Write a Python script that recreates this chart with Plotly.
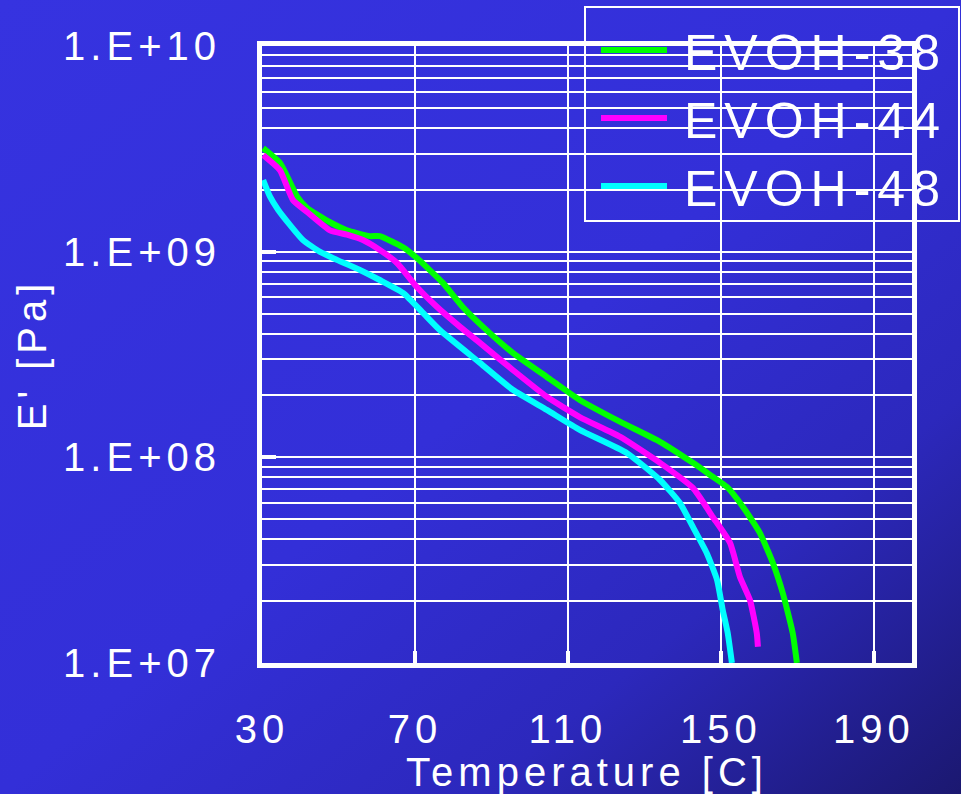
import base64
import plotly.graph_objects as go

# ---- data ----
T_38 = [30.3, 34.7, 39.2, 41.8, 47.8, 52.2, 58.2, 60.8, 66.9, 70.5, 77.3, 82.5, 87.8, 95.6,
        104.5, 113.1, 123.6, 134.1, 142.7, 147.9, 151.6, 155.8, 160.2, 163.6, 166.2, 168.8, 169.9]
E_38 = [3.19e9, 2.70e9, 1.85e9, 1.63e9, 1.39e9, 1.27e9, 1.19e9, 1.19e9, 1.05e9, 9.31e8, 7.05e8,
        5.38e8, 4.31e8, 3.22e8, 2.46e8, 1.90e8, 1.49e8, 1.19e8, 9.40e7, 8.04e7, 7.18e7, 5.74e7,
        4.29e7, 3.07e7, 2.19e7, 1.40e7, 1.00e7]

T_44 = [30.3, 34.7, 38.1, 41.8, 47.8, 52.2, 56.4, 60.8, 65.3, 70.5, 75.8, 81.8, 87.0, 95.6,
        104.5, 113.1, 123.6, 134.1, 142.7, 147.9, 152.4, 155.0, 157.6, 159.4, 159.7]
E_44 = [2.95e9, 2.49e9, 1.78e9, 1.56e9, 1.27e9, 1.21e9, 1.14e9, 1.02e9, 8.81e8, 6.73e8, 5.38e8,
        4.31e8, 3.60e8, 2.66e8, 1.97e8, 1.57e8, 1.26e8, 9.40e7, 7.10e7, 5.13e7, 3.84e7, 2.62e7,
        2.03e7, 1.40e7, 1.20e7]

T_48 = [30.3, 32.1, 34.2, 37.3, 40.7, 45.2, 49.6, 55.6, 60.8, 66.9, 72.1, 76.5, 87.0, 95.6,
        104.5, 113.1, 125.4, 134.1, 139.3, 142.7, 146.3, 149.0, 150.5, 151.8, 152.9]
E_48 = [2.23e9, 1.85e9, 1.60e9, 1.35e9, 1.14e9, 9.98e8, 9.12e8, 8.15e8, 7.28e8, 6.30e8, 5.04e8,
        4.16e8, 2.88e8, 2.13e8, 1.70e8, 1.36e8, 1.05e8, 7.76e7, 6.00e7, 4.59e7, 3.43e7, 2.54e7,
        1.81e7, 1.40e7, 1.00e7]

series_names = ["EVOH-38", "EVOH-44", "EVOH-48"]
series_colors = ["#00ff00", "#ff00ff", "#00ffff"]

x_ticks = [30, 70, 110, 150, 190]
y_major = [1e7, 1e8, 1e9, 1e10]
y_major_text = ["1.E+07", "1.E+08", "1.E+09", "1.E+10"]
y_minor = [m * 10 ** e for e in (7, 8, 9) for m in range(2, 10)]

x_title = "Temperature [C]"
y_title = "E' [Pa]"

# ---- figure ----
W, H = 961, 794
ML, MR, MT, MB = 262, 49, 46, 131
PW, PH = W - ML - MR, H - MT - MB
FONT = "Liberation Sans, Arial, sans-serif"

fig = go.Figure()
for name, xs, ys, col in zip(series_names, [T_38, T_44, T_48], [E_38, E_44, E_48], series_colors):
    fig.add_trace(go.Scatter(x=xs, y=ys, mode="lines", name=name,
                             line=dict(color=col, width=6, shape="spline", smoothing=0.5)))

# gradient background image
svg = ('<svg xmlns="http://www.w3.org/2000/svg" width="961" height="794" preserveAspectRatio="none">'
       '<defs><linearGradient id="g" x1="0" y1="0" x2="1" y2="1">'
       '<stop offset="0" stop-color="#3633e0"/>'
       '<stop offset="0.5" stop-color="#332fd8"/>'
       '<stop offset="0.75" stop-color="#2c28bc"/>'
       '<stop offset="1" stop-color="#1b1870"/>'
       '</linearGradient></defs><rect width="961" height="794" fill="url(#g)"/></svg>')
src = "data:image/svg+xml;base64," + base64.b64encode(svg.encode()).decode()
fig.add_layout_image(dict(source=src, xref="paper", yref="paper",
                          x=-ML / PW, y=1 + MT / PH, sizex=W / PW, sizey=H / PH,
                          xanchor="left", yanchor="top", sizing="stretch", layer="below"))

# legend border
fig.add_shape(type="rect", xref="paper", yref="paper",
              x0=(585 - ML) / PW, x1=(959 - ML) / PW,
              y0=1 - (221 - MT) / PH, y1=1 - (7 - MT) / PH,
              line=dict(color="white", width=2), fillcolor="rgba(0,0,0,0)", layer="above")

fig.update_layout(
    width=W, height=H,
    margin=dict(l=ML, r=MR, t=MT, b=MB, pad=0, autoexpand=False),
    paper_bgcolor="#3431da", plot_bgcolor="rgba(0,0,0,0)",
    font=dict(family=FONT, color="white", size=40),
    showlegend=True,
    legend=dict(x=(596 - ML) / PW, y=1 - (11 - MT) / PH, xanchor="left", yanchor="top",
                bgcolor="rgba(0,0,0,0)", borderwidth=0, itemwidth=66,
                font=dict(size=50, color="white", family=FONT), tracegroupgap=0),
)

fig.update_xaxes(
    range=[30, 200], tickvals=x_ticks, ticktext=[str(v) for v in x_ticks],
    showline=True, linecolor="white", linewidth=5, mirror=True,
    showgrid=True, gridcolor="white", gridwidth=2,
    ticks="inside", ticklen=12, tickwidth=4, tickcolor="white",
    tickfont=dict(size=40, color="white"), ticklabelstandoff=27,
    zeroline=False, automargin=False,
    title=dict(text=x_title, font=dict(size=40, color="white"), standoff=4),
)
fig.update_yaxes(
    type="log", range=[7, 10], tickvals=y_major, ticktext=y_major_text,
    showline=True, linecolor="white", linewidth=5, mirror=True,
    showgrid=True, gridcolor="white", gridwidth=2,
    ticks="inside", ticklen=14, tickwidth=4, tickcolor="white",
    minor=dict(tickvals=y_minor, showgrid=True, gridcolor="white", gridwidth=2, ticks=""),
    tickfont=dict(size=40, color="white"), ticklabelstandoff=28,
    zeroline=False, automargin=False,
    title=dict(text=y_title, font=dict(size=40, color="white"), standoff=36),
)

post = """
document.body.style.margin = '0';
var gd = document.getElementById('{plot_id}');
function ls(){
  gd.querySelectorAll('.legend .scrollbox').forEach(function(e){ e.removeAttribute('clip-path'); });
  gd.querySelectorAll('.legendtext, .xtick text, .ytick text, .xtitle, .ytitle').forEach(function(e){
    if (e.classList.contains('legendtext')) {
      e.style.letterSpacing = '7px';
      e.style.transform = 'translateX(12px)';
    } else {
      e.style.letterSpacing = '5px';
    }
  });
}
ls();
if (gd.on) { gd.on('plotly_afterplot', ls); }
"""
fig.write_html("out.html", post_script=post, config={"displayModeBar": False})
